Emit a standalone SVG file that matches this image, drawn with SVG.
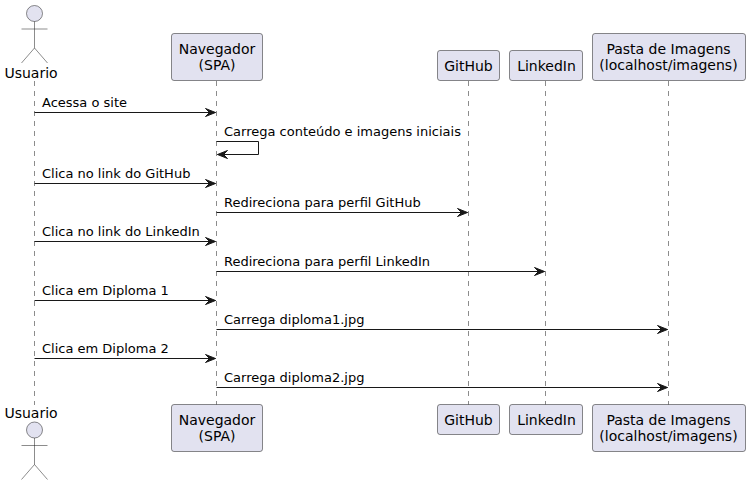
<svg xmlns="http://www.w3.org/2000/svg" width="750" height="485" viewBox="0 0 750 485">
<style>
text{font-family:"DejaVu Sans",sans-serif;fill:#000}
.p{font-size:14px;text-anchor:middle}
.m{font-size:13px}
.b{fill:#E2E2F0;stroke:#181818;stroke-width:.5}
.l{stroke:#181818;stroke-width:.5;stroke-dasharray:5 5;fill:none}
.a{stroke:#181818;stroke-width:1;fill:none}
.h{fill:#181818;stroke:#181818}
.s{fill:none;stroke:#181818;stroke-width:.5}
</style>
<defs>
<marker id="arr" markerUnits="userSpaceOnUse" markerWidth="12" markerHeight="10" refX="10" refY="5" orient="auto-start-reverse" overflow="visible"><path class="h" d="M0 1L10 5L0 9L4 5Z"/></marker>
<g id="stick"><circle class="b" cx="0" cy="0" r="8"/><path class="s" d="M0 8V34.500M-13 15.500H13M-13 49.500L0 34.500L13 49.500"/></g>
</defs>
<g id="lifelines">
<path class="l" d="M34.500 81V405"/>
<path class="l" d="M216.500 81V405"/>
<path class="l" d="M468.500 81V405"/>
<path class="l" d="M545.500 81V405"/>
<path class="l" d="M668.500 81V405"/>
</g>
<g id="connectors">
<path class="a" marker-end="url(#arr)" d="M34.500 112.500H215.500"/>
<path class="a" marker-end="url(#arr)" d="M216.500 141.500H258.500V154.500H217.500"/>
<path class="a" marker-end="url(#arr)" d="M34.500 183.500H215.500"/>
<path class="a" marker-end="url(#arr)" d="M216.500 212.500H467.500"/>
<path class="a" marker-end="url(#arr)" d="M34.500 241.500H215.500"/>
<path class="a" marker-end="url(#arr)" d="M216.500 271.500H544.500"/>
<path class="a" marker-end="url(#arr)" d="M34.500 300.500H215.500"/>
<path class="a" marker-end="url(#arr)" d="M216.500 329.500H667.500"/>
<path class="a" marker-end="url(#arr)" d="M34.500 358.500H215.500"/>
<path class="a" marker-end="url(#arr)" d="M216.500 387.500H667.500"/>
</g>
<g id="labels">
<text class="m" x="42" y="107">Acessa o site</text>
<text class="m" x="224" y="136">Carrega conteúdo e imagens iniciais</text>
<text class="m" x="42" y="178">Clica no link do GitHub</text>
<text class="m" x="224" y="207">Redireciona para perfil GitHub</text>
<text class="m" x="42" y="236">Clica no link do LinkedIn</text>
<text class="m" x="224" y="266">Redireciona para perfil LinkedIn</text>
<text class="m" x="42" y="295">Clica em Diploma 1</text>
<text class="m" x="224" y="324">Carrega diploma1.jpg</text>
<text class="m" x="42" y="353">Clica em Diploma 2</text>
<text class="m" x="224" y="382">Carrega diploma2.jpg</text>
</g>
<g id="usuario-top"><use href="#stick" x="34.500" y="13.500"/><text class="p" x="31" y="77.500">Usuario</text></g>
<g id="navegador-top"><rect class="b" x="171.500" y="33.500" width="91" height="47" rx="2.500"/><text class="p" x="217" y="54">Navegador</text><text class="p" x="217" y="70">(SPA)</text></g>
<g id="github-top"><rect class="b" x="437.500" y="50.500" width="62" height="30" rx="2.500"/><text class="p" x="468.500" y="70.500">GitHub</text></g>
<g id="linkedin-top"><rect class="b" x="509.500" y="50.500" width="73" height="30" rx="2.500"/><text class="p" x="546.500" y="70.500">LinkedIn</text></g>
<g id="pasta-top"><rect class="b" x="592.500" y="33.500" width="153" height="47" rx="2.500"/><text class="p" x="668.500" y="54">Pasta de Imagens</text><text class="p" x="668.500" y="70">(localhost/imagens)</text></g>
<g id="usuario-bottom"><text class="p" x="31" y="417.500">Usuario</text><use href="#stick" x="34.500" y="430"/></g>
<g id="navegador-bottom"><rect class="b" x="171.500" y="404.500" width="91" height="47" rx="2.500"/><text class="p" x="217" y="425">Navegador</text><text class="p" x="217" y="441">(SPA)</text></g>
<g id="github-bottom"><rect class="b" x="437.500" y="404.500" width="62" height="30" rx="2.500"/><text class="p" x="468.500" y="425">GitHub</text></g>
<g id="linkedin-bottom"><rect class="b" x="509.500" y="404.500" width="73" height="30" rx="2.500"/><text class="p" x="546.500" y="425">LinkedIn</text></g>
<g id="pasta-bottom"><rect class="b" x="592.500" y="404.500" width="153" height="47" rx="2.500"/><text class="p" x="668.500" y="425">Pasta de Imagens</text><text class="p" x="668.500" y="441">(localhost/imagens)</text></g>
</svg>
